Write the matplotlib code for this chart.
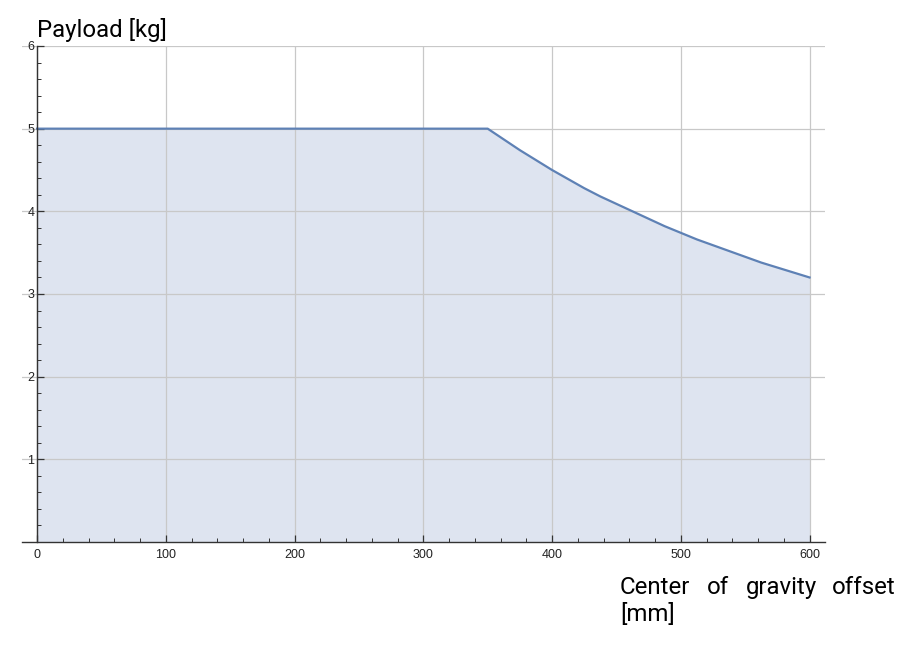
import matplotlib
matplotlib.use("Agg")
import matplotlib.pyplot as plt
from matplotlib.ticker import MultipleLocator

# values
offset_mm = [0, 350, 362.5, 375, 387.5, 400, 412.5, 425, 437.5, 450, 462.5,
             475, 487.5, 500, 512.5, 525, 537.5, 550, 562.5, 575, 587.5, 600]
payload_kg = [5.0, 5.0, 4.87, 4.74, 4.62, 4.50, 4.39, 4.28, 4.18, 4.09, 4.00,
              3.91, 3.82, 3.74, 3.66, 3.59, 3.52, 3.45, 3.38, 3.32, 3.26, 3.20]
x_ticks = [0, 100, 200, 300, 400, 500, 600]
y_ticks = [1, 2, 3, 4, 5, 6]

line_col = "#5e81b5"
fill_col = "#dee4f0"

fig = plt.figure(figsize=(9.13, 6.52), dpi=100)
ax = fig.add_axes([22 / 913, 110 / 652, (825 - 22) / 913, (542 - 46) / 652])

ax.fill_between(offset_mm, payload_kg, 0, color=fill_col, lw=0, zorder=1)
ax.plot(offset_mm, payload_kg, color=line_col, lw=1.6, zorder=3)

ax.set_xlim(-11.7, 612)
ax.set_ylim(0, 6)

ax.set_xticks(x_ticks)
ax.set_yticks(y_ticks)
ax.xaxis.set_minor_locator(MultipleLocator(20))
ax.yaxis.set_minor_locator(MultipleLocator(0.2))

# grid sits over the fill but under the curve
ax.set_axisbelow("line")
ax.grid(True, which="major", color="#c8c8c8", lw=0.9)

for s in ["top", "right"]:
    ax.spines[s].set_visible(False)
ax.spines["left"].set_position(("data", 0))
for s in ["left", "bottom"]:
    ax.spines[s].set_color("#333333")
    ax.spines[s].set_linewidth(1.0)
    ax.spines[s].set_zorder(4)

ax.tick_params(which="major", direction="in", length=5, width=0.9,
               color="#333333", labelsize=9, labelcolor="#222222")
ax.tick_params(which="minor", direction="in", length=3, width=0.7,
               color="#333333")
ax.tick_params(axis="y", which="major", pad=2)
ax.tick_params(axis="x", which="major", pad=5)
for lab in ax.get_xticklabels() + ax.get_yticklabels():
    lab.set_family("Liberation Sans")

fig.text(37 / 913, 1 - 37 / 652, "Payload [kg]", family="Roboto",
         fontsize=17.3, color="black", ha="left", va="baseline")

# justified x label, word by word
words = [("Center", 620), ("of", 707), ("gravity", 746), ("offset", 832)]
for w, px in words:
    fig.text(px / 913, 1 - 594 / 652, w, family="Roboto", fontsize=17.3,
             ha="left", va="baseline")
fig.text(620 / 913, 1 - 621 / 652, "[mm]", family="Roboto", fontsize=17.3,
         ha="left", va="baseline")

fig.savefig("out.png", dpi=100)
